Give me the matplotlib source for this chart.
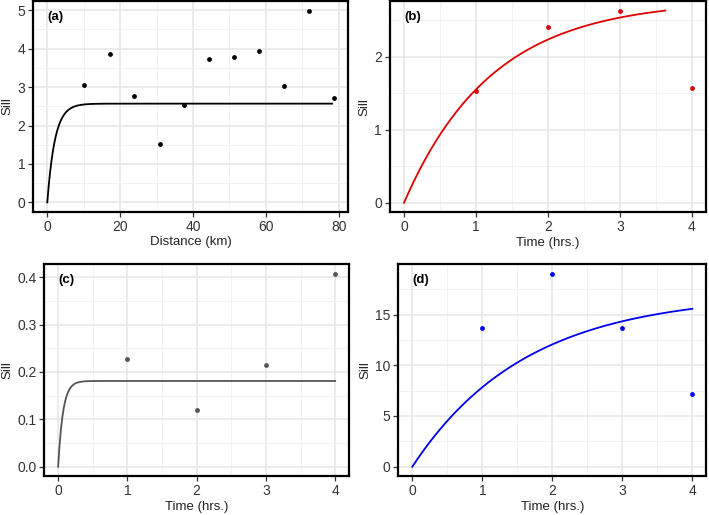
import numpy as np
import matplotlib
matplotlib.use("Agg")
import matplotlib.pyplot as plt
from matplotlib.ticker import MultipleLocator, FixedLocator, FormatStrFormatter

plt.rcParams['font.family'] = ['Liberation Sans', 'DejaVu Sans']

# ---- data ----
a_dist = [10.2, 17.1, 23.9, 30.8, 37.6, 44.4, 51.3, 58.2, 64.9, 71.8, 78.6]
a_sill = [3.05, 3.86, 2.78, 1.53, 2.53, 3.73, 3.78, 3.94, 3.03, 4.99, 2.71]
a_model = {"sill": 2.57, "range": 2.1, "xmax": 78.2}

b_time = [1, 2, 3, 4]
b_sill = [1.525, 2.40, 2.62, 1.575]
b_model = {"sill": 2.77, "range": 1.22, "xmax": 3.63}

c_time = [1, 2, 3, 4]
c_sill = [0.228, 0.119, 0.215, 0.407]
c_model = {"sill": 0.181, "range": 0.07, "xmax": 4.0}

d_time = [1, 2, 3, 4]
d_sill = [13.65, 19.0, 13.68, 7.14]
d_model = {"sill": 17.0, "range": 1.62, "xmax": 4.0}

panels = [
    dict(label="(a)", x=a_dist, y=a_sill, m=a_model, color="black",
         xlabel="Distance (km)", rect=[0.0465, 0.5883, 0.4443, 0.4097],
         xmaj=20, xmin=10, ymaj=1, ymin=0.5, yfmt="%g"),
    dict(label="(b)", x=b_time, y=b_sill, m=b_model, color="#DD0000",
         xlabel="Time (hrs.)", rect=[0.5496, 0.5878, 0.4465, 0.4103],
         xmaj=1, xmin=0.5, ymaj=1, ymin=0.5, yfmt="%g"),
    dict(label="(c)", x=c_time, y=c_sill, m=c_model, color="#555555",
         xlabel="Time (hrs.)", rect=[0.0625, 0.0751, 0.4298, 0.4117],
         xmaj=1, xmin=0.5, ymaj=0.1, ymin=0.05, yfmt="%.1f"),
    dict(label="(d)", x=d_time, y=d_sill, m=d_model, color="#0000EE",
         xlabel="Time (hrs.)", rect=[0.5618, 0.0751, 0.4344, 0.4117],
         xmaj=1, xmin=0.5, ymaj=5, ymin=2.5, yfmt="%g"),
]

fig = plt.figure(figsize=(7.09, 5.15), dpi=100)

for p in panels:
    ax = fig.add_axes(p["rect"])
    m = p["m"]
    xs = np.linspace(0, m["xmax"], 400)
    ys = m["sill"] * (1 - np.exp(-xs / m["range"]))
    ax.plot(xs, ys, color=p["color"], lw=1.3, zorder=3)
    ax.scatter(p["x"], p["y"], s=12, color=p["color"], zorder=4, linewidths=0)

    allx = list(p["x"]) + [0, m["xmax"]]
    ally = list(p["y"]) + [0, float(ys.max())]
    x0, x1 = min(allx), max(allx)
    y0, y1 = min(ally), max(ally)
    dx, dy = (x1 - x0) * 0.05, (y1 - y0) * 0.05
    ax.set_xlim(x0 - dx, x1 + dx)
    ax.set_ylim(y0 - dy, y1 + dy)

    xt = np.arange(0, x1 + dx, p["xmaj"])
    yt = np.arange(0, y1 + dy, p["ymaj"])
    ax.xaxis.set_major_locator(FixedLocator(xt))
    ax.yaxis.set_major_locator(FixedLocator(yt))
    ax.xaxis.set_minor_locator(MultipleLocator(p["xmin"]))
    ax.yaxis.set_minor_locator(MultipleLocator(p["ymin"]))
    ax.yaxis.set_major_formatter(FormatStrFormatter(p["yfmt"]))
    ax.xaxis.set_major_formatter(FormatStrFormatter("%g"))

    ax.grid(which="major", color="#E6E6E6", lw=1.1, zorder=0)
    ax.grid(which="minor", color="#F0F0F0", lw=0.6, zorder=0)
    ax.set_axisbelow(True)
    ax.tick_params(which="major", length=3.5, width=0.9, color="#333333",
                   labelsize=10, labelcolor="#333333", pad=2)
    ax.tick_params(which="minor", length=0)
    for s in ax.spines.values():
        s.set_linewidth(1.6)
        s.set_color("black")

    ax.set_xlabel(p["xlabel"], fontsize=9.5, color="#222222", labelpad=2)
    ax.set_ylabel("Sill", fontsize=9.5, color="#222222", labelpad=3)

    ax.annotate(p["label"], xy=(0, 1), xycoords=("data", "axes fraction"),
                xytext=(0, -16), textcoords="offset pixels",
                ha="left", va="center", fontsize=9.5, fontweight="bold")

fig.savefig("out.png", dpi=100)
